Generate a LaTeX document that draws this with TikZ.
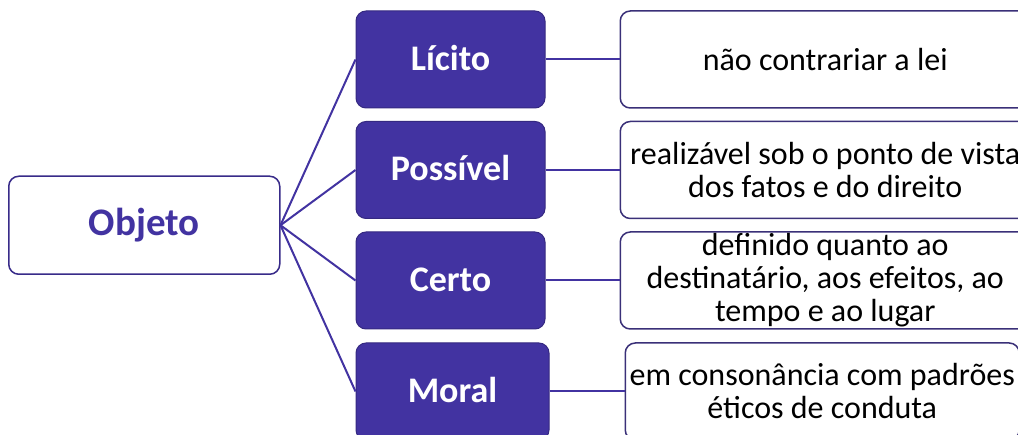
\documentclass[tikz,border=0pt]{standalone}
\usepackage{fontspec}
\setmainfont{Carlito}
\usetikzlibrary{positioning,calc}
\definecolor{roxo}{RGB}{66,51,161}
\definecolor{borda}{RGB}{58,48,120}
\tikzset{
    objeto/.style={draw=roxo!85!black,line width=1.5pt,rounded corners=10pt,fill=white,
        minimum width=271pt,minimum height=98pt,text=roxo,font=\fontsize{39}{40}\selectfont\bfseries},
    topico/.style={draw=roxo!80!black,line width=1pt,rounded corners=10pt,fill=roxo,
        minimum width=189pt,minimum height=97pt,text=white,text height=22pt,text depth=0pt,
        font=\fontsize{36}{38}\selectfont\bfseries},
    detalhe/.style={draw=borda,line width=1.5pt,rounded corners=10pt,fill=white,
        minimum width=410pt,minimum height=97pt,align=center,inner xsep=0pt,inner ysep=-6pt,
        font=\fontsize{32}{33}\selectfont},
    ligacao/.style={draw=roxo,line width=2pt}
}
\begin{document}
\begin{tikzpicture}[x=1pt,y=1pt]
    \useasboundingbox (0,0) rectangle (1018,-435);
                \node[topico] (licito) at (450.5,-59.5) {Lícito};
                \node[topico] (possivel) [below=12.5pt of licito] {Possível};
                \node[topico] (certo) [below=12.5pt of possivel] {Certo};
                \node[topico,minimum width=193pt] (moral) [below=13pt of certo.south west,anchor=north west] {Moral};
                \coordinate (meio) at ($(possivel.west)!0.5!(certo.west)$);
                \node[objeto] (obj) [left=75pt of meio] {Objeto};
                \node[detalhe] (lei) [right=74pt of licito] {não contrariar a lei};
                \node[detalhe] (fatos) [right=74pt of possivel] {realizável sob o ponto de vista\\dos fatos e do direito};
                \node[detalhe] (lugar) [right=74pt of certo] {definido quanto ao\\destinatário, aos efeitos, ao\\tempo e ao lugar};
                \node[detalhe,minimum width=394pt] (etica) [right=75pt of moral] {em consonância com padrões\\éticos de conduta};
            \path[ligacao]
                    (obj.east)  edge  (licito.west)
                    (obj.east)  edge  (possivel.west)
                    (obj.east)  edge  (certo.west)
                    (obj.east)  edge  (moral.west)
                    (licito)  edge  (lei)
                    (possivel)  edge  (fatos)
                    (certo)  edge  (lugar)
                    (moral)  edge  (etica);
\end{tikzpicture}
\end{document}
